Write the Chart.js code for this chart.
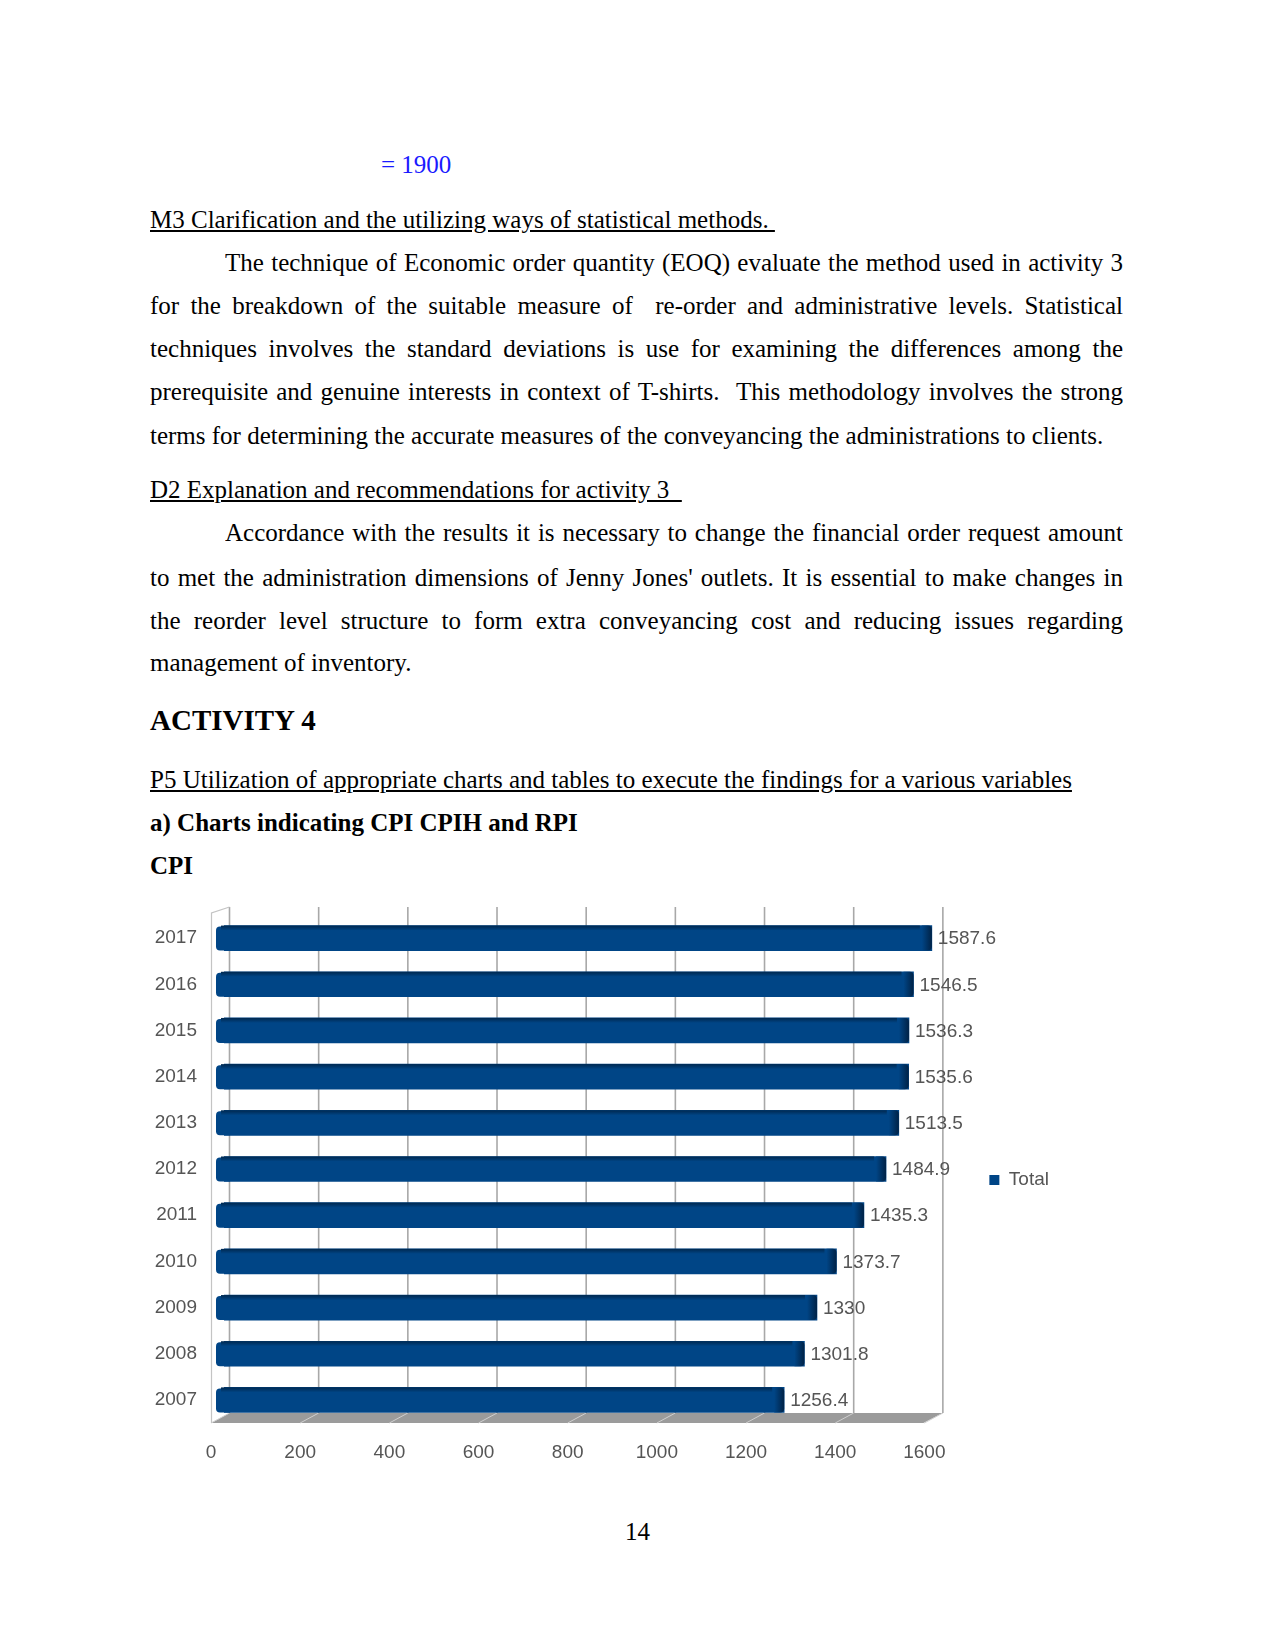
<!DOCTYPE html>
<html><head><meta charset="utf-8">
<script src="https://cdn.jsdelivr.net/npm/chart.js@4.4.0/dist/chart.umd.min.js"></script>
<style>
html,body{margin:0;padding:0;background:#fff;}
body{width:1275px;height:1650px;position:relative;overflow:hidden;font-family:"Liberation Serif","Times New Roman",serif;font-size:25px;color:#000;}
.l{position:absolute;left:150px;width:973px;height:43px;line-height:43px;white-space:nowrap;}
.j{text-align:justify;text-align-last:justify;white-space:normal;overflow:hidden;}
.ind{left:225px;width:898px;}
.u{text-decoration:underline;}
.b{font-weight:bold;}
#wrap{position:absolute;left:130px;top:890px;}
</style></head>
<body>
<div class="l" style="left:381px;top:143px;color:#1a1aff;">= 1900</div>
<div class="l u" style="top:198px;width:auto;">M3 Clarification and the utilizing ways of statistical methods.&nbsp;</div>
<div class="l j ind" style="top:241px;">The technique of Economic order quantity (EOQ) evaluate the method used in activity 3</div>
<div class="l j" style="top:284px;">for the breakdown of the suitable measure of &nbsp;re-order and administrative levels. Statistical</div>
<div class="l j" style="top:327px;">techniques involves the standard deviations is use for examining the differences among the</div>
<div class="l j" style="top:370px;">prerequisite and genuine interests in context of T-shirts. &nbsp;This methodology involves the strong</div>
<div class="l" style="top:414px;">terms for determining the accurate measures of the conveyancing the administrations to clients.</div>
<div class="l u" style="top:468px;width:auto;">D2 Explanation and recommendations for activity 3&nbsp;&nbsp;</div>
<div class="l j ind" style="top:511px;">Accordance with the results it is necessary to change the financial order request amount</div>
<div class="l j" style="top:556px;">to met the administration dimensions of Jenny Jones' outlets. It is essential to make changes in</div>
<div class="l j" style="top:599px;">the reorder level structure to form extra conveyancing cost and reducing issues regarding</div>
<div class="l" style="top:641px;">management of inventory.</div>
<div class="l b" style="top:699px;font-size:29px;">ACTIVITY 4</div>
<div class="l u" style="top:758px;width:auto;">P5 Utilization of appropriate charts and tables to execute the findings for a various variables</div>
<div class="l b" style="top:801px;">a) Charts indicating CPI CPIH and RPI</div>
<div class="l b" style="top:844px;">CPI</div>
<div id="wrap"><canvas id="c" width="929" height="583"></canvas></div>
<div class="l" style="top:1510px;left:0;width:1275px;text-align:center;">14</div>
<script>
const years = ['2007','2008','2009','2010','2011','2012','2013','2014','2015','2016','2017'];
const totals = [1256.4, 1301.8, 1330, 1373.7, 1435.3, 1484.9, 1513.5, 1535.6, 1536.3, 1546.5, 1587.6];
const xTicks = [0, 200, 400, 600, 800, 1000, 1200, 1400, 1600];
const seriesName = 'Total';

const textColor = '#555555';
const chartFont = {family: "'Liberation Sans', Arial, sans-serif", size: 19};
const barColor = '#004586';

const threeD = {
  id: 'threeD',
  beforeDatasetsDraw(chart) {
    const {ctx, chartArea: a, scales: {x}} = chart;
    const x0 = x.getPixelForValue(0), x1 = x.getPixelForValue(1600);
    ctx.save();
    // floor
    ctx.fillStyle = '#9b9b9b';
    ctx.beginPath();
    ctx.moveTo(x0 - 12.5, a.bottom);
    ctx.lineTo(x1 - 14, a.bottom);
    ctx.lineTo(x1 + 5.5, a.bottom - 10);
    ctx.lineTo(x0 + 5.5, a.bottom - 10);
    ctx.closePath();
    ctx.fill();
    ctx.strokeStyle = '#cfcfcf';
    ctx.lineWidth = 1;
    xTicks.forEach(v => {
      const p = x.getPixelForValue(v);
      ctx.beginPath();
      ctx.moveTo(p + 5.5, a.bottom - 10);
      ctx.lineTo(p - 13, a.bottom);
      ctx.stroke();
    });
    // back wall gridlines
    ctx.strokeStyle = '#a8a8a8';
    ctx.lineWidth = 1.6;
    xTicks.forEach(v => {
      const p = x.getPixelForValue(v) + 5.5;
      ctx.beginPath();
      ctx.moveTo(p, a.top - 8);
      ctx.lineTo(p, a.bottom - 10);
      ctx.stroke();
    });
    // left side wall
    ctx.strokeStyle = '#c4c4c4';
    ctx.lineWidth = 1.2;
    ctx.beginPath();
    ctx.moveTo(x0 - 12.5, a.bottom);
    ctx.lineTo(x0 - 12.5, a.top - 2);
    ctx.lineTo(x0 + 5.5, a.top - 8);
    ctx.stroke();
    ctx.restore();
  },
  afterDatasetsDraw(chart) {
    const {ctx} = chart;
    const meta = chart.getDatasetMeta(0);
    ctx.save();
    meta.data.forEach((bar, i) => {
      const {x, y, base, height} = bar.getProps(['x', 'y', 'base', 'height'], true);
      const top = y - height / 2;
      // left 3D cap
      ctx.fillStyle = barColor;
      ctx.beginPath();
      ctx.roundRect(base - 8, top + 1, 14, height - 1, [4, 0, 0, 4]);
      ctx.fill();
      // top face
      const tg = ctx.createLinearGradient(0, top, 0, top + 5);
      tg.addColorStop(0, '#00284f');
      tg.addColorStop(1, barColor);
      ctx.fillStyle = tg;
      ctx.fillRect(base - 3, top, x - base - 9, 5);
      // end cap
      const g = ctx.createLinearGradient(x - 10, 0, x, 0);
      g.addColorStop(0, barColor);
      g.addColorStop(1, '#002246');
      ctx.fillStyle = g;
      ctx.beginPath();
      ctx.roundRect(x - 10, top, 10, height, [0, 4, 4, 0]);
      ctx.fill();
      // value label
      ctx.fillStyle = textColor;
      ctx.font = "19px 'Liberation Sans', Arial, sans-serif";
      ctx.textBaseline = 'middle';
      ctx.textAlign = 'left';
      ctx.fillText(String(totals[i]), x + 6, y + 1);
    });
    ctx.restore();
  }
};

new Chart(document.getElementById('c'), {
  type: 'bar',
  data: {
    labels: years,
    datasets: [{
      label: seriesName,
      data: totals,
      backgroundColor: barColor,
      barThickness: 25,
      borderSkipped: false
    }]
  },
  options: {
    indexAxis: 'y',
    responsive: false,
    animation: false,
    devicePixelRatio: 1,
    layout: {padding: {top: 25, left: 0, right: 0, bottom: 0}},
    scales: {
      x: {
        min: 0, max: 1600,
        afterBuildTicks: s => { s.ticks = xTicks.map(v => ({value: v})); },
        grid: {display: false, drawTicks: false},
        border: {display: false},
        ticks: {color: textColor, font: chartFont, labelOffset: -13, padding: 18, maxRotation: 0, autoSkip: false,
                callback: v => String(v)},
        afterFit: s => { s.height = 50; }
      },
      y: {
        reverse: true,
        grid: {display: false, drawTicks: false},
        border: {display: false},
        ticks: {color: textColor, font: chartFont, padding: 27},
        afterFit: s => { s.width = 94; s.paddingTop = 0; s.paddingBottom = 0; }
      }
    },
    plugins: {
      legend: {
        position: 'right',
        fullSize: false,
        title: {display: true, text: '', font: {size: 10}, padding: 5},
        labels: {boxWidth: 10, boxHeight: 10, padding: 52, color: textColor, font: chartFont}
      },
      tooltip: {enabled: false}
    }
  },
  plugins: [threeD]
});
</script>
</body></html>
